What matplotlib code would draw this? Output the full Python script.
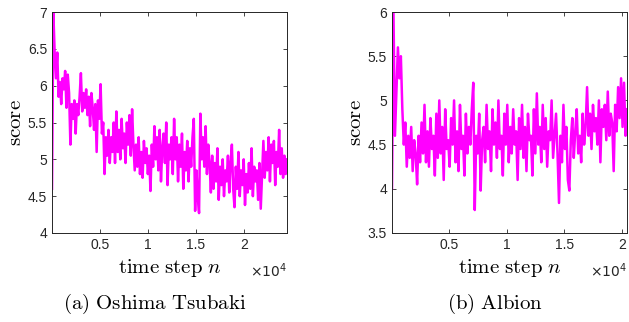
import numpy as np
import matplotlib
matplotlib.use('Agg')
import matplotlib.pyplot as plt
import matplotlib.ticker as ticker

# score, left panel (Oshima Tsubaki)
score_a = [
    4.6, 7.0, 6.45, 6.1, 6.45, 5.85,
    6.05, 5.75, 6.1, 5.95, 6.2, 5.7, 6.15, 5.9,
    5.2,
    5.75, 5.55, 5.8, 5.35, 5.75, 5.6, 5.85,
    6.17,
    5.65, 5.9, 5.7, 5.95, 5.6, 5.85, 5.45, 5.9, 5.7, 5.4, 5.75, 5.1, 5.8, 5.55, 6.02,
    5.35, 5.5, 4.8, 5.3,
    5.05, 5.4, 4.95, 5.3, 5.1, 5.5, 4.95, 5.65, 5.1, 5.4, 5.0, 5.55, 5.15, 5.35,
    4.95, 5.5, 5.2, 5.6, 5.05, 5.68, 5.2,
    4.85, 5.2, 4.9, 5.3, 4.8, 5.1, 4.75, 5.25, 4.95, 5.15, 4.8, 5.05, 4.57,
    5.2, 4.9, 5.45, 5.0, 5.3, 4.85, 5.4, 4.7, 5.15, 5.35, 4.95, 5.5, 4.65, 5.2,
    5.0, 5.3, 4.8, 5.55,
    5.0, 5.3, 4.7, 5.2, 4.9, 5.35, 4.6, 5.1, 4.85, 5.25, 4.7, 5.15, 4.9, 5.3, 5.55,
    4.3, 4.85, 4.5, 4.27,
    5.62,
    5.0, 5.3, 4.9, 5.45, 4.8, 5.2, 4.95,
    4.55, 5.05, 4.6, 4.95, 4.7, 5.15, 4.45, 4.9, 4.65, 5.0, 4.5, 4.85, 4.7, 5.05,
    4.55, 4.95, 5.2, 4.6, 4.35,
    4.9, 4.6, 5.1, 4.5, 4.85, 4.65, 5.0, 4.38, 4.8, 4.55, 4.95, 4.6, 5.15, 4.5,
    4.9, 4.7, 4.85, 4.45, 4.95, 4.33,
    4.8, 5.25, 4.75, 5.1, 4.85, 5.3, 4.7, 5.2, 4.95, 5.25, 4.65, 5.1, 4.9, 5.4,
    4.8, 5.15, 4.75, 5.05, 4.8, 5.0,
]

# right panel (Albion)
score_b = [
    4.0, 6.0, 4.6, 5.1,
    5.6, 5.25, 5.5, 4.9,
    4.5, 4.75, 4.25, 4.6, 4.35, 4.7, 4.2, 4.55, 4.4, 4.05, 4.6, 4.3, 4.75,
    4.4, 4.95, 4.3, 4.65, 4.25, 4.8, 4.45, 4.6, 4.15, 4.85, 4.35, 5.0, 4.4, 4.7,
    4.1, 4.9, 4.45, 4.55, 4.25, 4.8, 4.5, 5.0, 4.3, 4.65, 4.2, 4.95, 4.45, 4.6,
    4.15, 4.85, 4.4, 4.7, 4.5, 4.9,
    5.2, 3.76,
    4.6, 4.4, 4.85, 3.98, 4.55, 4.7, 4.3, 4.95, 4.45, 4.65, 4.2, 4.9, 4.5, 4.75,
    4.35, 5.0, 4.45, 4.6, 4.15, 4.85, 4.5, 4.95, 4.3, 4.7,
    4.4, 4.9, 4.5, 4.65, 4.1, 4.8, 4.45, 4.95, 4.35, 4.7, 4.2, 4.85, 4.55, 4.6,
    4.15, 4.9, 4.4, 5.08, 4.5, 4.7, 4.3, 4.95, 4.45, 4.8, 4.25, 4.65, 4.55, 5.0,
    4.35, 4.6,
    4.85, 4.4, 3.84,
    4.6, 4.3, 4.95, 4.45, 4.7, 4.1, 3.98, 4.55, 4.8, 4.35, 4.65, 4.9, 4.4, 4.6,
    4.3, 4.85, 4.5, 4.7,
    5.15, 4.6, 4.85, 4.45, 4.95, 4.65, 4.8, 4.5, 5.0, 4.3, 4.9, 4.7, 4.95, 4.55,
    5.1, 4.6, 4.85, 4.75, 4.2, 4.95, 4.65, 5.15, 4.8, 5.25, 4.7, 5.2, 4.6, 4.9,
]

n_max_a = 24500
n_max_b = 20450
xticks = [5000, 10000, 15000, 20000]
xtick_labels = ['0.5', '1', '1.5', '2']

plt.rcParams.update({
    'font.family': 'Liberation Sans',
    'mathtext.fontset': 'cm',
    'font.size': 10,
})

fig = plt.figure(figsize=(6.29, 3.22), dpi=100)
ax_a = fig.add_axes([0.0827, 0.2764, 0.3736, 0.6863])
ax_b = fig.add_axes([0.6232, 0.2764, 0.3736, 0.6863])

panels = [
    (ax_a, score_a, n_max_a, (4, 7)),
    (ax_b, score_b, n_max_b, (3.5, 6)),
]

for ax, y, n_max, ylim in panels:
    n = np.linspace(1, n_max, len(y))
    ax.plot(n, y, color='#ff00ff', linewidth=1.8)
    ax.set_xlim(1, n_max)
    ax.set_ylim(*ylim)
    ax.set_xticks(xticks, xtick_labels)
    ax.yaxis.set_major_locator(ticker.MultipleLocator(0.5))
    ax.yaxis.set_major_formatter(ticker.FormatStrFormatter('%g'))
    ax.tick_params(direction='in', top=True, right=True, length=3,
                   width=0.6, color='#262626', labelsize=10, labelcolor='#262626')
    for sp in ax.spines.values():
        sp.set_color('#262626')
        sp.set_linewidth(0.7)
    ax.set_ylabel(r'$\mathrm{score}$', fontsize=15, labelpad=2)
    ax.set_xlabel(r'$\mathrm{time\ step}\ n$', fontsize=15, labelpad=4)
    ax.text(1.0, -0.13, r'$\times10^4$', transform=ax.transAxes,
            ha='right', va='top', fontsize=10, color='#262626',
            math_fontfamily='dejavusans')

fig.text(0.245, 0.055, r'$\mathrm{(a)\ Oshima\ Tsubaki}$', ha='center', va='center', fontsize=15)
fig.text(0.787, 0.055, r'$\mathrm{(b)\ Albion}$', ha='center', va='center', fontsize=15)

plt.savefig('out.png', dpi=100)
